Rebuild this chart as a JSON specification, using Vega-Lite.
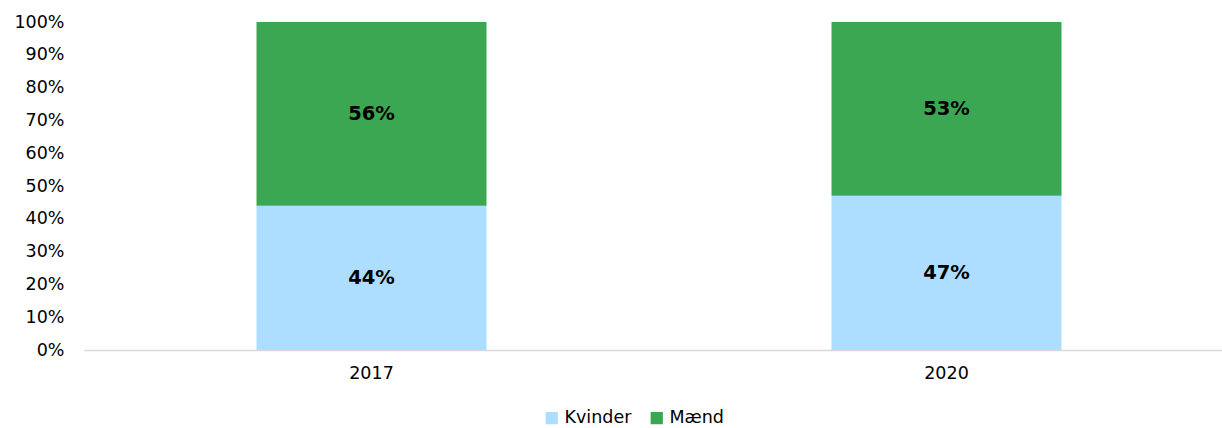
{
  "$schema": "https://vega.github.io/schema/vega-lite/v6.json",
  "autosize": "none",
  "width": 1150,
  "height": 328,
  "padding": {"left": 84, "top": 22, "right": 0, "bottom": 78},
  "background": "white",
  "config": {
    "view": {"stroke": null},
    "font": "DejaVu Sans",
    "axis": {"labelFont": "DejaVu Sans", "labelFontSize": 17.5, "labelColor": "#000000"},
    "legend": {"labelFont": "DejaVu Sans", "labelFontSize": 17.5, "labelColor": "#000000"}
  },
  "data": {
    "values": [
      {"year": "2017", "gender": "Kvinder", "value": 0.44, "label": "44%"},
      {"year": "2017", "gender": "Mænd", "value": 0.56, "label": "56%"},
      {"year": "2020", "gender": "Kvinder", "value": 0.47, "label": "47%"},
      {"year": "2020", "gender": "Mænd", "value": 0.53, "label": "53%"}
    ]
  },
  "encoding": {
    "x": {
      "field": "year", "type": "nominal",
      "scale": {"paddingInner": 0.6, "paddingOuter": 0.3},
      "axis": {"title": null, "labelAngle": 0, "ticks": false, "domainColor": "#d9d9d9", "domainWidth": 1.5, "labelPadding": 14}
    },
    "y": {
      "field": "value", "type": "quantitative", "stack": "zero",
      "scale": {"domain": [0, 1], "nice": false},
      "axis": {"title": null, "format": ".0%", "values": [0, 0.1, 0.2, 0.3, 0.4, 0.5, 0.6, 0.7, 0.8, 0.9, 1], "grid": false, "domain": false, "ticks": false, "labelPadding": 20}
    },
    "order": {"field": "gender", "sort": "ascending"}
  },
  "layer": [
    {
      "mark": {"type": "bar"},
      "encoding": {
        "color": {
          "field": "gender", "type": "nominal",
          "scale": {"domain": ["Kvinder", "Mænd"], "range": ["#ADDEFF", "#3BA752"]},
          "legend": {
            "title": null, "orient": "none", "direction": "horizontal",
            "legendX": 459, "legendY": 387,
            "symbolType": "square", "symbolSize": 150, "symbolStrokeWidth": 0,
            "symbolOpacity": 1, "labelOffset": 4, "columnPadding": 16
          }
        }
      }
    },
    {
      "mark": {"type": "text", "fontWeight": "bold", "fontSize": 19.5, "color": "#000000"},
      "encoding": {
        "y": {"field": "value", "type": "quantitative", "stack": "zero", "bandPosition": 0.5},
        "text": {"field": "label"}
      }
    }
  ]
}
